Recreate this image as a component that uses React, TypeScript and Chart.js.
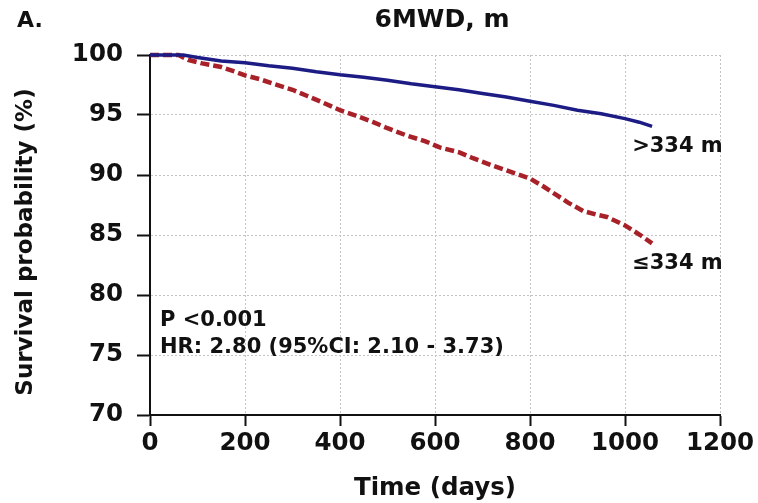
import React, { useEffect, useRef } from "react";
import { Chart, registerables } from "chart.js";

Chart.register(...registerables);

const panelLabel = "A.";
const chartTitle = "6MWD, m";
const xAxisTitle = "Time (days)";
const yAxisTitle = "Survival probability (%)";

const xTickValues = [0, 200, 400, 600, 800, 1000, 1200];
const yTickValues = [70, 75, 80, 85, 90, 95, 100];

const highLabel = ">334 m";
const lowLabel = "≤334 m";

const highDays = [0, 70, 100, 150, 200, 250, 300, 350, 400, 450, 500, 550, 600, 650, 700, 750, 800, 850, 900, 950, 1000, 1030, 1057];
const highSurvival = [100, 100, 99.8, 99.5, 99.35, 99.1, 98.9, 98.6, 98.35, 98.15, 97.9, 97.6, 97.35, 97.1, 96.8, 96.5, 96.15, 95.8, 95.4, 95.1, 94.7, 94.4, 94.05];

const lowDays = [0, 60, 80, 110, 150, 180, 200, 230, 260, 300, 330, 360, 400, 430, 470, 500, 540, 580, 610, 650, 680, 720, 750, 800, 830, 857, 880, 912, 940, 962, 1000, 1032, 1057];
const lowSurvival = [100, 100, 99.6, 99.3, 99.0, 98.6, 98.3, 98.0, 97.6, 97.1, 96.6, 96.1, 95.4, 95.0, 94.4, 93.9, 93.3, 92.8, 92.3, 91.9, 91.4, 90.8, 90.4, 89.7, 89.0, 88.3, 87.7, 87.0, 86.7, 86.5, 85.8, 85.0, 84.3];

const statLines = ["P <0.001", "HR: 2.80 (95%CI: 2.10 - 3.73)"];

const FONT = '"DejaVu Sans", sans-serif';

const annotationPlugin = {
  id: "annotations",
  afterDraw(chart: any) {
    const { ctx, chartArea, scales } = chart;
    const x = scales.x;
    const y = scales.y;
    ctx.save();
    ctx.fillStyle = "#111";
    ctx.textBaseline = "middle";
    // title
    ctx.font = `bold 25px ${FONT}`;
    ctx.textAlign = "center";
    ctx.fillText(chartTitle, (chartArea.left + chartArea.right) / 2 + 7, 20);
    // panel label
    ctx.font = `bold 22px ${FONT}`;
    ctx.textAlign = "left";
    ctx.fillText(panelLabel, 17, 21);
    // y axis title
    ctx.save();
    ctx.font = `bold 23px ${FONT}`;
    ctx.textAlign = "center";
    ctx.translate(26, (chartArea.top + chartArea.bottom) / 2 + 7);
    ctx.rotate(-Math.PI / 2);
    ctx.fillText(yAxisTitle, 0, 0);
    ctx.restore();
    // group labels
    ctx.font = `bold 21px ${FONT}`;
    ctx.fillText(highLabel, x.getPixelForValue(1015), y.getPixelForValue(92.4));
    ctx.fillText(lowLabel, x.getPixelForValue(1015), y.getPixelForValue(82.6));
    // statistics
    ctx.fillText(statLines[0], x.getPixelForValue(21), y.getPixelForValue(77.9));
    ctx.fillText(statLines[1], x.getPixelForValue(21), y.getPixelForValue(75.6));
    ctx.restore();
  },
};

export default function App() {
  const ref = useRef<HTMLCanvasElement | null>(null);

  useEffect(() => {
    if (!ref.current) return;
    const chart = new Chart(ref.current, {
      type: "line",
      data: {
        datasets: [
          {
            label: highLabel,
            data: highDays.map((d, i) => ({ x: d, y: highSurvival[i] })),
            borderColor: "#1c1c84",
            borderWidth: 3.5,
            pointRadius: 0,
            tension: 0,
            fill: false,
            clip: 6,
          },
          {
            label: lowLabel,
            data: lowDays.map((d, i) => ({ x: d, y: lowSurvival[i] })),
            borderColor: "#a82028",
            borderWidth: 4.5,
            borderDash: [9, 4],
            pointRadius: 0,
            tension: 0,
            fill: false,
            clip: 6,
          },
        ],
      },
      options: {
        animation: false,
        responsive: true,
        maintainAspectRatio: false,
        layout: { padding: { top: 55, right: 38, bottom: 0, left: 0 } },
        plugins: {
          legend: { display: false },
          title: { display: false },
          tooltip: { enabled: false },
        },
        scales: {
          x: {
            type: "linear",
            min: 0,
            max: 1200,
            afterBuildTicks: (s: any) => {
              s.ticks = xTickValues.map((v) => ({ value: v }));
            },
            afterFit: (s: any) => {
              s.height = 88;
            },
            ticks: {
              font: { family: FONT, size: 24.5, weight: "bold" },
              color: "#111",
              padding: 3,
              maxRotation: 0,
              autoSkip: false,
              callback: (v: any) => String(v),
            },
            grid: {
              color: "#c4c4c4",
              lineWidth: 1,
              drawTicks: true,
              tickLength: 11,
              tickColor: "#111",
              tickWidth: 2,
              tickBorderDash: [],
            },
            border: { display: true, color: "#111", width: 2, dash: [2, 2] },
            title: {
              display: true,
              text: xAxisTitle,
              font: { family: FONT, size: 24.5, weight: "bold" },
              color: "#111",
              padding: { top: 0, bottom: 0 },
            },
          },
          y: {
            type: "linear",
            min: 70,
            max: 100,
            afterBuildTicks: (s: any) => {
              s.ticks = yTickValues.map((v) => ({ value: v }));
            },
            afterFit: (s: any) => {
              s.width = 150;
            },
            ticks: {
              font: { family: FONT, size: 24.5, weight: "bold" },
              color: "#111",
              padding: 14,
              autoSkip: false,
              callback: (v: any) => String(v),
            },
            grid: {
              color: "#c4c4c4",
              lineWidth: 1,
              drawTicks: true,
              tickLength: 13,
              tickColor: "#111",
              tickWidth: 2,
              tickBorderDash: [],
            },
            border: { display: true, color: "#111", width: 2, dash: [2, 2] },
            title: { display: false },
          },
        },
      },
      plugins: [annotationPlugin],
    });
    return () => chart.destroy();
  }, []);

  return (
    <div style={{ position: "absolute", left: 0, top: 0, width: 758, height: 503, background: "#fff" }}>
      <canvas ref={ref} />
    </div>
  );
}
